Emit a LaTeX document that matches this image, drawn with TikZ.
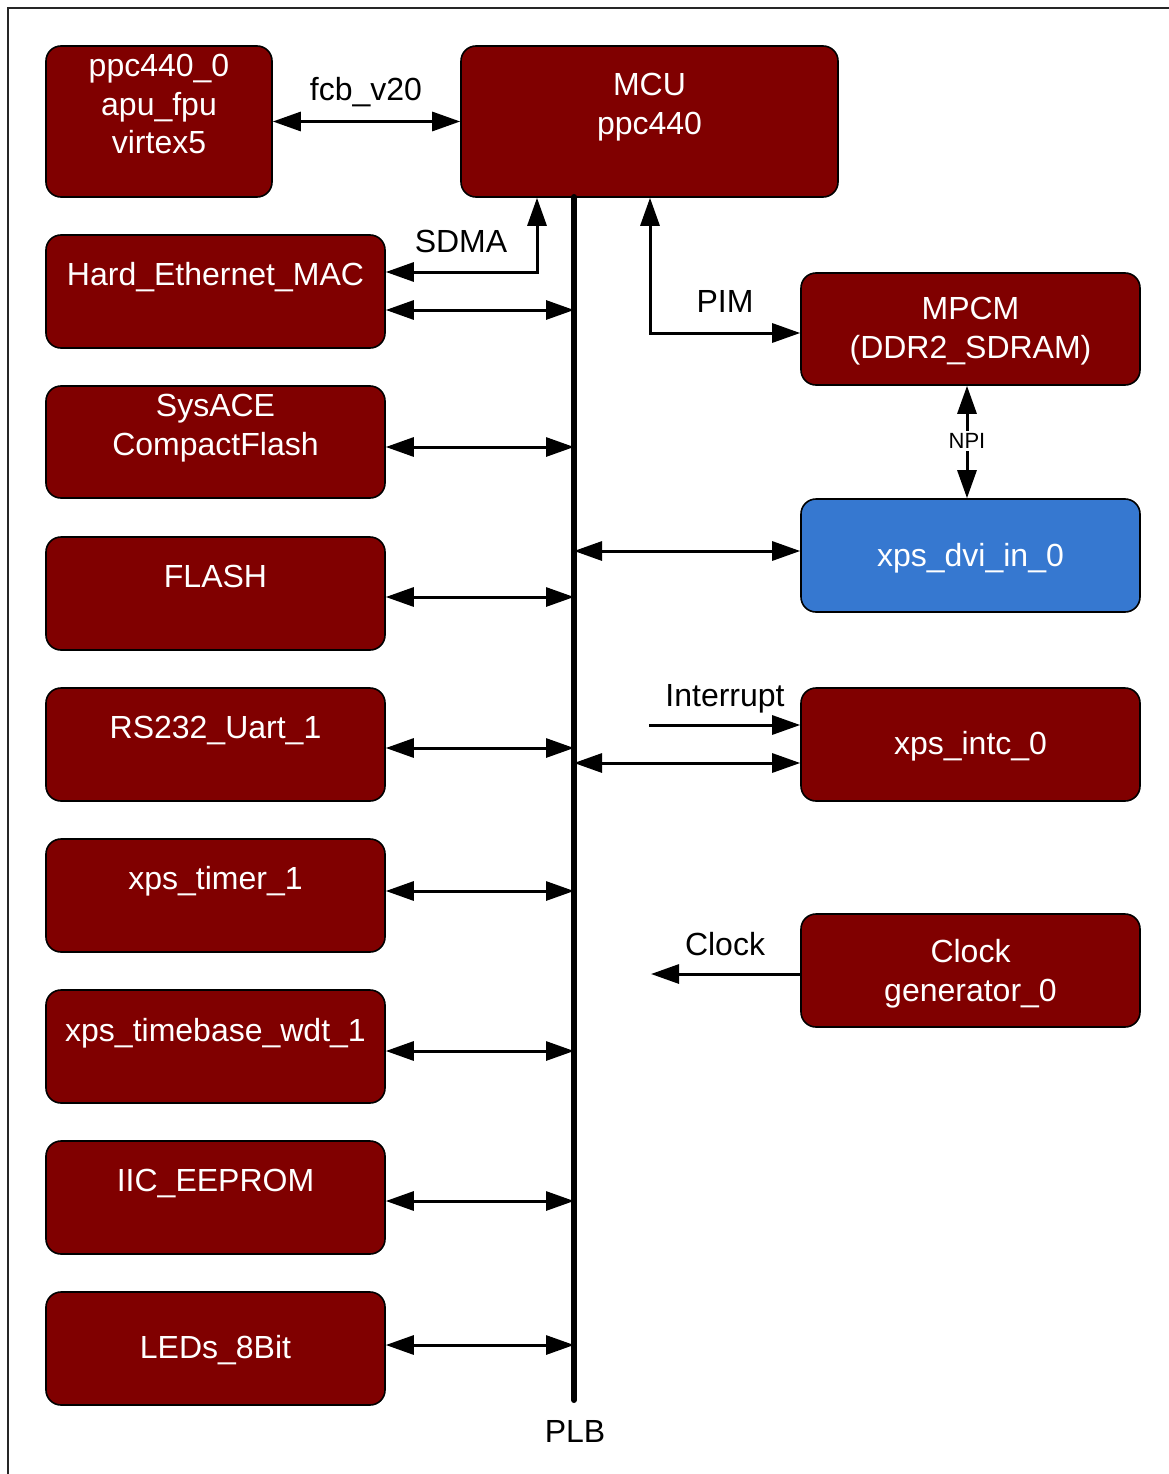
\documentclass[tikz,border=0pt]{standalone}
\usepackage{fontspec}
\setmainfont{Liberation Sans}
\usetikzlibrary{arrows.meta,calc}
\definecolor{dred}{RGB}{128,0,0}
\definecolor{dblue}{RGB}{54,120,208}
\begin{document}
\begin{tikzpicture}[x=1pt,y=-1pt,
  box/.style={draw=black, line width=1.6pt, fill=dred, rounded corners=15pt,
    minimum width=339pt, minimum height=113pt, inner sep=0pt},
  btext/.style={text=white, font=\fontsize{32pt}{38.5pt}\selectfont, inner sep=0pt, align=center},
  lbl/.style={text=black, font=\fontsize{32pt}{38.5pt}\selectfont, inner sep=0pt},
  conn/.style={line width=3pt, -{Triangle[length=28pt,width=19pt]}},
  biconn/.style={line width=3pt, {Triangle[length=28pt,width=19pt]}-{Triangle[length=28pt,width=19pt]}},
  bus/.style={line width=6pt, line cap=round},
  frame/.style={line width=2.5pt, draw=black!85}]
\useasboundingbox (0,0) rectangle (1169,1474);
% frame
\draw[frame] (8,1480) -- (8,8) -- (1175,8);

% boxes
\node[box, minimum width=226pt, minimum height=151pt] (ppc) at (159,121.5) {};
\node[box, minimum width=377pt, minimum height=151pt] (mcu) at (649.5,121.5) {};
\node[box] (he) at (215.5,291.5) {};
\node[box, minimum height=112pt] (sys) at (215.5,442) {};
\node[box] (flash) at (215.5,593.5) {};
\node[box] (rs) at (215.5,744.5) {};
\node[box] (timer) at (215.5,895.5) {};
\node[box] (tb) at (215.5,1046.5) {};
\node[box] (iic) at (215.5,1197.5) {};
\node[box] (leds) at (215.5,1348.5) {};
\node[box, minimum height=112pt] (mpcm) at (970.5,329) {};
\node[box, fill=dblue] (dvi) at (970.5,555.5) {};
\node[box] (intc) at (970.5,744.5) {};
\node[box] (clk) at (970.5,970.5) {};

% box texts
\node[btext, anchor=north] (ppc-t) at (159,54.2) {ppc440\_0\\apu\_fpu\\virtex5};
\node[btext, anchor=north] (mcu-t) at (649.5,73.2) {MCU\\ppc440};
\node[btext, anchor=base] (he-t) at (215.5,285) {Hard\_Ethernet\_MAC};
\node[btext, anchor=north] (sys-t) at (215.5,394.2) {SysACE\\CompactFlash};
\node[btext, anchor=base] (flash-t) at (215.5,587) {FLASH};
\node[btext, anchor=base] (rs-t) at (215.5,738) {RS232\_Uart\_1};
\node[btext, anchor=base] (timer-t) at (215.5,889) {xps\_timer\_1};
\node[btext, anchor=base] (tb-t) at (215.5,1041) {xps\_timebase\_wdt\_1};
\node[btext, anchor=base] (iic-t) at (215.5,1191) {IIC\_EEPROM};
\node[btext, anchor=base] (leds-t) at (215.5,1358) {LEDs\_8Bit};
\node[btext, anchor=north] (mpcm-t) at (970.5,297.2) {MPCM\\(DDR2\_SDRAM)};
\node[btext, anchor=base] (dvi-t) at (970.5,566) {xps\_dvi\_in\_0};
\node[btext, anchor=base] (intc-t) at (970.5,754) {xps\_intc\_0};
\node[btext, anchor=north] (clk-t) at (970.5,939.2) {Clock\\generator\_0};

% bus
\coordinate (bus-top) at (574,197);
\coordinate (bus-bot) at (574,1400);
\draw[bus] (bus-top) -- (bus-bot);
\node[lbl, anchor=base] (plb) at (575,1442) {PLB};

% connectors
\draw[biconn] (ppc.east) -- (mcu.west);
\node[lbl, anchor=base] (fcb) at (366,101) {fcb\_v20};

\draw[biconn] (he.east |- 0,272) -| (mcu.south -| 537,0);
\node[lbl, anchor=base] (sdma) at (461,252) {SDMA};

\draw[biconn] (mcu.south -| 650,0) |- (mpcm.west |- 0,333);
\node[lbl, anchor=base] (pim) at (725,312) {PIM};

\draw[biconn] (he.east |- 0,310) -- (bus-top |- 0,310);
\draw[biconn] (sys.east |- 0,447) -- (bus-top |- 0,447);
\draw[biconn] (flash.east |- 0,597) -- (bus-top |- 0,597);
\draw[biconn] (rs.east |- 0,748) -- (bus-top |- 0,748);
\draw[biconn] (timer.east |- 0,891) -- (bus-top |- 0,891);
\draw[biconn] (tb.east |- 0,1051) -- (bus-top |- 0,1051);
\draw[biconn] (iic.east |- 0,1201) -- (bus-top |- 0,1201);
\draw[biconn] (leds.east |- 0,1345) -- (bus-top |- 0,1345);

\draw[biconn] (bus-top |- 0,551) -- (dvi.west |- 0,551);
\draw[biconn] (bus-top |- 0,763) -- (intc.west |- 0,763);

\coordinate (int-start) at (649,725);
\draw[conn] (int-start) -- (intc.west |- int-start);
\node[lbl, anchor=base] (intr) at (725,706) {Interrupt};

\coordinate (clk-end) at (651,974);
\draw[conn] (clk.west |- clk-end) -- (clk-end);
\node[lbl, anchor=base] (clkl) at (725,955) {Clock};

\draw[biconn] (mpcm.south -| 967,0) -- (dvi.north -| 967,0);
\node[fill=white, inner sep=2pt, font=\fontsize{22pt}{24pt}\selectfont] (npi) at (967,441) {NPI};
\end{tikzpicture}
\end{document}
